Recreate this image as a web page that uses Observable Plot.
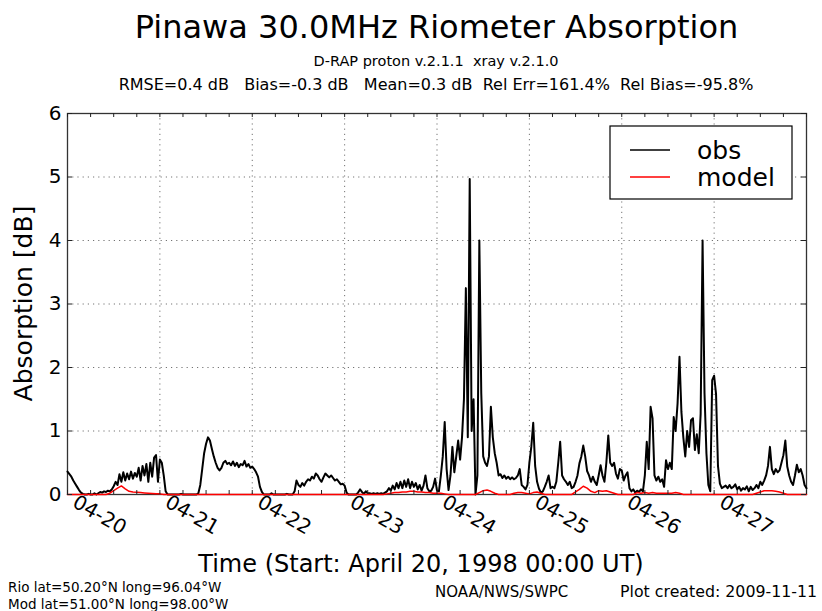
<!DOCTYPE html>
<html><head><meta charset="utf-8">
<script src="https://cdn.jsdelivr.net/npm/d3@7"></script>
<script src="https://cdn.jsdelivr.net/npm/@observablehq/plot@0.6"></script>
<style>
html,body{margin:0;padding:0;background:#fff;}
#chart{width:822px;height:611px;}
</style></head><body><div id="chart"></div>
<script>
// ---- data ----
const startText = "1998-04-20T00:00Z";
const endText = "1998-04-28T00:00Z";
const obsStepHours = 0.5;   // observed: half-hourly samples
const modelStepHours = 1;   // model: hourly samples

const obsApr20 = [.36,.32,.28,.22,.17,.12,.07,.03, .01,0,0,.01,0,0,.02,0, .02,.04,.03,.05,.04,.06,.05,.08, .13,.2,.15,.32,.2,.35,.22,.33, .24,.36,.25,.34,.28,.42,.22,.45, .3,.48,.2,.5,.28,.58,.62,.2];
const obsApr21 = [.55,.5,.3,.05,0,0,0,0, 0,0,0,.01,0,0,0,0, 0,0,0,0,.02,.15,.4,.65, .8,.9,.85,.72,.6,.5,.42,.38, .42,.5,.53,.48,.5,.46,.52,.45, .5,.43,.48,.46,.53,.44,.48,.42];
const obsApr22 = [.44,.4,.35,.28,.12,.04,0,0, 0,0,.02,0,0,0,0,0, 0,0,.01,0,0,0,.05,.22, .15,.12,.18,.14,.2,.24,.22,.28, .25,.33,.3,.24,.2,.27,.33,.3, .27,.3,.26,.22,.24,.2,.16,.17];
const obsApr23 = [.14,.03,0,0,0,0,0,.03, .08,.04,.01,.05,.02,.02,.01,.02, .01,.02,.01,.02,.01,.03,.05,.1, .06,.14,.08,.18,.1,.2,.1,.22, .12,.24,.1,.2,.12,.18,.08,.15, .06,.14,.3,.1,.05,.06,.12,.25];
const obsApr24 = [.06,.05,.3,.6,1.14,.4,.07,.3, .75,.35,.6,.85,.55,.9,1.5,3.25, .9,4.97,1.0,1.5,0,.3,4.0,1.6, .6,.5,.45,.6,1.38,.9,.65,.5, .3,.32,.26,.3,.25,.28,.24,.27, .24,.26,.3,.4,.15,.12,.08,.15];
const obsApr25 = [.5,.75,1.13,.45,.2,.09,.03,.05, .12,.2,.3,.1,.12,.1,.2,.5, .83,.3,.24,.2,.15,.2,.1,.12, .2,.3,.49,.6,.77,.6,.37,.3, .2,.28,.2,.15,.3,.46,.3,.2, .5,.93,.5,.45,.5,.33,.25,.4];
const obsApr26 = [.38,.22,.3,.35,.1,.05,.08,.03, .06,.04,.08,.05,.3,.83,.4,1.38, 1.2,.3,.22,.28,.2,.24,.12,.54, .4,.5,.4,1.22,1.0,1.43,2.17,1.3, .9,.6,1.0,.75,1.17,1.2,.7,.95, .65,1.27,4.0,1.6,.65,.15,.05,1.8];
const obsApr27 = [1.87,1.58,.45,.17,.1,.12,.14,.1, .15,.1,.12,.16,.08,.12,.06,.1, .08,.13,.05,.12,.07,.1,.15,.1, .2,.15,.22,.3,.45,.75,.4,.32, .4,.35,.38,.5,.62,.85,.44,.3, .2,.15,.3,.47,.35,.4,.3,.15, .1];

const modelApr20 = [0,0,0,0,0,0,0,0,0,0,0,.02,.06,.1,.135,.09,.05,.04,.035,.03,.025,.02,.015,.01];
const modelApr21 = [.01,0,0,0,0,0,0,0,0,0,0,0,0,0,0,0,0,0,0,0,0,0,0,0];
const modelApr22 = [0,0,0,0,0,0,0,0,0,0,0,0,0,0,0,0,0,0,0,0,0,0,0,0];
const modelApr23 = [0,0,0,0,0,0,0,0,0,0,0,.01,.02,.03,.03,.04,.04,.05,.05,.04,.04,.03,.03,.02];
const modelApr24 = [.02,.02,.01,0,0,0,0,0,0,0,0,.03,.06,.07,.05,.02,0,0,0,0,.02,.03,.03,.02];
const modelApr25 = [.01,.03,.04,.02,0,0,0,0,0,0,0,0,.04,.08,.13,.1,.05,.03,.06,.05,.06,.04,.02,0];
const modelApr26 = [0,0,0,0,.03,.02,.03,.02,.03,.02,.02,.02,.02,.02,.03,.02,0,0,0,0,0,0,0,0];
const modelApr27 = [0,0,0,0,0,0,0,0,0,0,0,.02,.04,.06,.06,.06,.05,.04,.02,0,0,0,0,0,0];

const yTicks = [0,1,2,3,4,5,6];
const tickLabelFormat = "%m-%d";
const seriesNames = ["obs", "model"];
const seriesColors = ["black", "red"];

const titleText = "Pinawa 30.0MHz Riometer Absorption";
const subtitle1 = "D-RAP proton v.2.1.1\u00a0\u00a0xray v.2.1.0";
const subtitle2 = "RMSE=0.4 dB\u00a0\u00a0\u00a0Bias=-0.3 dB\u00a0\u00a0\u00a0Mean=0.3 dB\u00a0\u00a0Rel Err=161.4%\u00a0\u00a0Rel Bias=-95.8%";
const yLabel = "Absorption [dB]";
const xLabel = "Time (Start: April 20, 1998 00:00 UT)";
const rioText = "Rio lat=50.20°N long=96.04°W";
const modText = "Mod lat=51.00°N long=98.00°W";
const agencyText = "NOAA/NWS/SWPC";
const createdText = "Plot created: 2009-11-11";

// ---- build tables ----
const start = new Date(startText), end = new Date(endText);
const obs = [].concat(obsApr20, obsApr21, obsApr22, obsApr23, obsApr24, obsApr25, obsApr26, obsApr27);
const model = [].concat(modelApr20, modelApr21, modelApr22, modelApr23, modelApr24, modelApr25, modelApr26, modelApr27);
const obsData = obs.map((v, i) => ({time: new Date(+start + i * obsStepHours * 3600e3), value: v}));
const modelData = model.map((v, i) => ({time: new Date(+start + i * modelStepHours * 3600e3), value: v}));
const dayTicks = d3.utcDay.range(start, end);
const minorTicks = d3.utcHour.every(6).range(start, new Date(+end + 1));

const W = 822, H = 611;
const mT = 113, mR = 16, mB = 117, mL = 67;
const fw = W - mL - mR, fh = H - mT - mB;
const font = "'DejaVu Sans', sans-serif";
const grid = {stroke: "#000", strokeOpacity: 0.55, strokeDasharray: "1.2,4"};

const plot = Plot.plot({
  width: W, height: H,
  marginTop: mT, marginRight: mR, marginBottom: mB, marginLeft: mL,
  style: {fontFamily: font, background: "white", color: "black"},
  x: {type: "utc", domain: [start, end]},
  y: {domain: [0, 6]},
  marks: [
    Plot.gridX(dayTicks, grid),
    Plot.gridY(yTicks, grid),
    Plot.frame({stroke: "#333", strokeWidth: 1.3}),
    Plot.lineY(obsData, {x: "time", y: "value", stroke: seriesColors[0], strokeWidth: 2}),
    Plot.lineY(modelData, {x: "time", y: "value", stroke: seriesColors[1], strokeWidth: 1.5}),
    Plot.tickX(minorTicks, {x: d => d, insetTop: fh - 4, stroke: "#222"}),
    Plot.tickX(minorTicks, {x: d => d, insetBottom: fh - 4, stroke: "#222"}),
    Plot.tickY(yTicks, {y: d => d, insetRight: fw - 5, stroke: "#222"}),
    Plot.tickY(yTicks, {y: d => d, insetLeft: fw - 5, stroke: "#222"}),
    Plot.axisX(dayTicks, {tickFormat: d3.utcFormat(tickLabelFormat), tickRotate: 30, tickSize: 0, tickPadding: 6, dx: 7, fontSize: 20, label: null}),
    Plot.axisY(yTicks, {tickFormat: d3.format("d"), tickSize: 0, tickPadding: 6, fontSize: 20, label: null})
  ]
});
document.getElementById("chart").appendChild(plot);

const svg = d3.select(plot);
function txt(s, x, y, size, anchor = "start", rotate = 0) {
  const t = svg.append("text").text(s)
    .attr("font-family", font).attr("font-size", size).attr("fill", "black")
    .attr("text-anchor", anchor);
  if (rotate) t.attr("transform", `translate(${x},${y}) rotate(${rotate})`);
  else t.attr("x", x).attr("y", y);
  return t;
}
txt(titleText, 436.5, 38, 32, "middle");
txt(subtitle1, 436, 66, 14.5, "middle");
txt(subtitle2, 436, 90, 16, "middle");
txt(yLabel, 32, 303.5, 25, "middle", -90);
txt(xLabel, 421, 572, 24, "middle");
txt(rioText, 8, 592, 13.5);
txt(modText, 8, 609, 13.5);
txt(agencyText, 435, 597, 15);
txt(createdText, 620, 597, 15.8);

// legend
const lg = svg.append("g");
lg.append("rect").attr("x", 610).attr("y", 126).attr("width", 182).attr("height", 73)
  .attr("fill", "white").attr("stroke", "black").attr("stroke-width", 1.2);
seriesNames.forEach((name, i) => {
  const yy = 150 + i * 27;
  lg.append("line").attr("x1", 630).attr("x2", 670).attr("y1", yy).attr("y2", yy)
    .attr("stroke", seriesColors[i]).attr("stroke-width", 1.3);
  lg.append("text").text(name).attr("x", 697).attr("y", yy + 9)
    .attr("text-anchor", "start")
    .attr("font-family", font).attr("font-size", 25).attr("fill", "black");
});
</script></body></html>
